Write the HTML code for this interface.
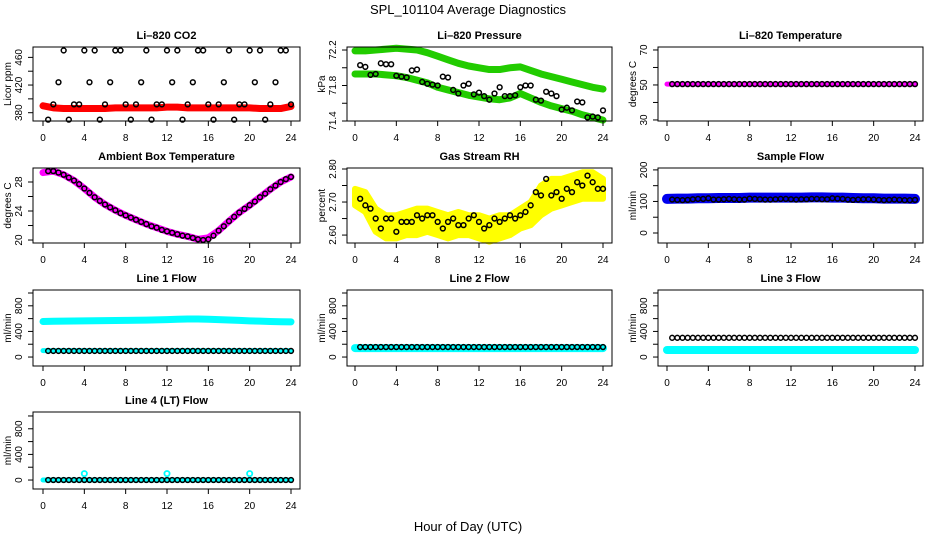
<!DOCTYPE html>
<html><head><meta charset="utf-8"><style>
html,body{margin:0;padding:0;background:#fff;}
svg{display:block;font-family:"Liberation Sans",sans-serif;}
</style></head><body>
<svg id="chart" width="936" height="540" viewBox="0 0 936 540" xmlns="http://www.w3.org/2000/svg">
<text x="468" y="14" text-anchor="middle" font-size="13">SPL_101104  Average Diagnostics</text>
<text x="468" y="531" text-anchor="middle" font-size="13">Hour of Day (UTC)</text>
</svg>
<script>
// ---- data (hourly bands: 25 values, 0..24h; circles: 49 values, 0..24h step 0.5) ----
const xTicks=[0,4,8,12,16,20,24];
const co2Band=[390,387,386,386,386,386,386,387,387,387,387,387,388,388,387,387,387,387,387,387,387,386,386,386,389];
const co2Pts=[392,370,392,424,470,370,392,392,470,424,470,370,392,424,470,470,392,370,392,424,470,370,392,392,470,424,470,370,392,424,470,470,392,370,392,424,470,370,392,392,470,424,470,370,392,424,470,470,392];
const presUpper=[72.19,72.19,72.20,72.21,72.22,72.21,72.20,72.17,72.13,72.09,72.05,72.02,72.00,71.98,71.98,72.00,72.01,71.97,71.93,71.90,71.87,71.84,71.81,71.78,71.76];
const presLower=[71.93,71.93,71.93,71.92,71.91,71.89,71.86,71.83,71.78,71.75,71.72,71.69,71.67,71.65,71.64,71.66,71.71,71.66,71.61,71.57,71.54,71.51,71.47,71.44,71.41];
const presPts=[71.95,72.03,72.01,71.92,71.93,72.05,72.04,72.04,71.91,71.90,71.89,71.97,71.98,71.84,71.82,71.81,71.80,71.90,71.89,71.75,71.71,71.80,71.82,71.70,71.72,71.68,71.64,71.71,71.78,71.68,71.68,71.69,71.78,71.80,71.80,71.64,71.63,71.73,71.71,71.68,71.53,71.55,71.52,71.62,71.61,71.44,71.45,71.44,71.52];
const licTempBand=[50.5,50.5,50.5,50.5,50.5,50.5,50.5,50.5,50.5,50.5,50.5,50.5,50.5,50.5,50.5,50.5,50.5,50.5,50.5,50.5,50.5,50.5,50.5,50.5,50.5];
const licTempPts=[50.5,50.5,50.5,50.5,50.5,50.5,50.5,50.5,50.5,50.5,50.5,50.5,50.5,50.5,50.5,50.5,50.5,50.5,50.5,50.5,50.5,50.5,50.5,50.5,50.5,50.5,50.5,50.5,50.5,50.5,50.5,50.5,50.5,50.5,50.5,50.5,50.5,50.5,50.5,50.5,50.5,50.5,50.5,50.5,50.5,50.5,50.5,50.5,50.5];
const ambBand=[29.3,29.5,29.0,28.2,27.1,25.9,24.9,24.1,23.4,22.8,22.2,21.7,21.2,20.8,20.5,20.1,20.3,21.3,22.6,23.8,24.8,25.9,27.0,28.0,28.7];
const ambPts=[29.3,29.5,29.5,29.3,29.0,28.6,28.2,27.7,27.1,26.5,25.9,25.4,24.9,24.5,24.1,23.7,23.4,23.1,22.8,22.5,22.2,21.9,21.7,21.4,21.2,21.0,20.8,20.6,20.5,20.3,20.1,20.0,20.1,20.6,21.3,21.9,22.6,23.2,23.8,24.3,24.8,25.3,25.9,26.4,27.0,27.5,28.0,28.4,28.7];
const rhHigh=[2.74,2.73,2.68,2.66,2.66,2.67,2.68,2.68,2.67,2.66,2.67,2.66,2.66,2.65,2.66,2.66,2.68,2.70,2.75,2.77,2.77,2.78,2.79,2.79,2.77];
const rhLow=[2.69,2.67,2.61,2.59,2.59,2.60,2.60,2.61,2.60,2.59,2.60,2.60,2.59,2.58,2.59,2.60,2.62,2.63,2.66,2.68,2.69,2.70,2.71,2.71,2.71];
const rhPts=[2.71,2.71,2.69,2.68,2.65,2.62,2.65,2.65,2.61,2.64,2.64,2.64,2.66,2.65,2.66,2.66,2.64,2.62,2.64,2.65,2.63,2.63,2.65,2.66,2.64,2.62,2.63,2.65,2.64,2.65,2.66,2.65,2.66,2.67,2.69,2.73,2.72,2.77,2.72,2.73,2.71,2.74,2.73,2.76,2.75,2.78,2.76,2.74,2.74];
const sampBand=[108,109,109,110,110,111,111,111,112,112,112,112,112,112,113,113,112,112,111,110,110,109,109,109,108];
const sampPts=[106,106,105,104,105,107,108,108,110,106,106,107,108,107,106,106,109,108,107,106,106,107,108,108,107,106,107,107,108,108,107,107,110,109,108,106,105,106,107,107,106,105,104,105,106,105,104,104,105];
const l1High=[555,558,560,562,565,567,568,570,572,574,576,580,585,590,595,595,590,585,578,572,565,560,555,552,550];
const l1Low=[100,100,100,100,100,100,100,100,100,100,100,100,100,100,100,100,100,100,100,100,100,100,100,100,100];
const l1Pts=[95,95,95,95,95,95,95,95,95,95,95,95,95,95,95,95,95,95,95,95,95,95,95,95,95,95,95,95,95,95,95,95,95,95,95,95,95,95,95,95,95,95,95,95,95,95,95,95,95];
const l2Band=[140,140,140,140,140,140,140,140,140,140,140,140,140,140,140,140,140,140,140,140,140,140,140,140,140];
const l2Pts=[150,156,156,156,156,156,156,156,156,156,156,156,156,156,156,156,156,156,156,156,156,156,156,156,156,156,156,156,156,156,156,156,156,156,156,156,156,156,156,156,156,156,156,156,156,156,156,156,156];
const l3Band=[110,110,110,110,110,110,110,110,110,110,110,110,110,110,110,110,110,110,110,110,110,110,110,110,110];
const l3Pts=[300,300,300,300,300,300,300,300,300,300,300,300,300,300,300,300,300,300,300,300,300,300,300,300,300,300,300,300,300,300,300,300,300,300,300,300,300,300,300,300,300,300,300,300,300,300,300,300,300];
const l4Band=[0,0,0,0,0,0,0,0,0,0,0,0,0,0,0,0,0,0,0,0,0,0,0,0,0];
const l4Pts=[0,0,0,0,0,0,0,0,0,0,0,0,0,0,0,0,0,0,0,0,0,0,0,0,0,0,0,0,0,0,0,0,0,0,0,0,0,0,0,0,0,0,0,0,0,0,0,0,0];
const l4SpikeHours=[4,12,20];
const l4SpikeVals=[100,100,100];

const NS='http://www.w3.org/2000/svg';
const svg=document.getElementById('chart');
function mk(tag,attrs,parent){const e=document.createElementNS(NS,tag);for(const k in attrs)e.setAttribute(k,attrs[k]);(parent||svg).appendChild(e);return e;}
const cols=[{l:33,x0:43,x24:291,r:300},{l:347,x0:355,x24:603,r:612},{l:658,x0:667,x24:915,r:923}];
const rows=[{t:47,b:121},{t:168,b:243},{t:290,b:366},{t:412,b:489}];
const flowTicks=[0,200,400,600,800,1000], flowLabels=[0,400,800];

function panel(name,title,ci,ri,ymin,ymax,ticks,labels,ylab,decim,layers){
  const c=cols[ci],r=rows[ri];
  const g=mk('g',{});
  
  
  const X=h=>c.x0+h/24*(c.x24-c.x0);
  const Y=v=>r.b-(v-ymin)/(ymax-ymin)*(r.b-r.t);
  const plot=mk('g',{},g);
  
  
  layers(plot,X,Y);
  const box=mk('rect',{x:c.l,y:r.t,width:c.r-c.l,height:r.b-r.t,fill:'none',stroke:'#000','stroke-width':1},g);
  
  
  const t=mk('text',{x:(c.l+c.r)/2,y:r.t-8,'text-anchor':'middle','font-size':11,'font-weight':'bold'},g);
  
  
  t.textContent=title;
  // x axis
  const xa=mk('g',{},g);
  
  
  xTicks.forEach(h=>{mk('line',{x1:X(h),x2:X(h),y1:r.b,y2:r.b+5,stroke:'#000'},xa);
    const tl=mk('text',{x:X(h),y:r.b+20,'text-anchor':'middle','font-size':10},xa);
    
    
    tl.textContent=h;});
  // y axis
  const ya=mk('g',{},g);
  
  
  const ax=c.l;
  ticks.forEach(v=>mk('line',{x1:ax-5,x2:ax,y1:Y(v),y2:Y(v),stroke:'#000'},ya));
  labels.forEach(v=>{const yy=Y(v),lx=ax-11;const tl=mk('text',{x:lx,y:yy,'text-anchor':'middle','font-size':10,transform:`rotate(-90 ${lx} ${yy})`},ya);
    
    
    tl.textContent=v.toFixed(decim);});
  const yl=(r.t+r.b)/2, ylx=c.l-22;
  const yt=mk('text',{x:ylx,y:yl,'text-anchor':'middle','font-size':10,transform:`rotate(-90 ${ylx} ${yl})`},g);
  
  
  yt.textContent=ylab;
}
function band(p,X,Y,arr,color,w,name){
  const pts=arr.map((v,i)=>X(i)+','+Y(v)).join(' ');
  const e=mk('polyline',{points:pts,fill:'none',stroke:color,'stroke-width':w,'stroke-linejoin':'round','stroke-linecap':'round'},p);
  
  
}
function area(p,X,Y,hi,lo,color,name){
  const pts=hi.map((v,i)=>X(i)+','+Y(v)).concat(lo.map((v,i)=>X(i)+','+Y(v)).reverse()).join(' ');
  const e=mk('polygon',{points:pts,fill:color,stroke:color,'stroke-width':6,'stroke-linejoin':'round'},p);
  
  
}
function circles(p,X,Y,arr,color,name,start){
  arr.forEach((v,i)=>{const h=i*0.5; if(h<(start||0))return;
    const e=mk('circle',{cx:X(h),cy:Y(v),r:2.4,fill:'none',stroke:color,'stroke-width':1.5},p);
    
    });
}

panel('co2','Li\u2013820 CO2',0,0,368,475,[380,400,420,440,460],[380,420,460],'Licor ppm',0,(p,X,Y)=>{
  band(p,X,Y,co2Band,'#ff0000',7,'co2-raw-band'); circles(p,X,Y,co2Pts,'#000','co2-average-point',0.5);});
panel('pressure','Li\u2013820 Pressure',1,0,71.40,72.234,[71.4,71.6,71.8,72.0,72.2],[71.4,71.8,72.2],'kPa',1,(p,X,Y)=>{
  band(p,X,Y,presUpper,'#22cc00',7,'pressure-upper-band'); band(p,X,Y,presLower,'#22cc00',7,'pressure-lower-band'); circles(p,X,Y,presPts,'#000','pressure-average-point',0.5);});
panel('licor-temp','Li\u2013820 Temperature',2,0,29.4,71.7,[30,40,50,60,70],[30,50,70],'degrees C',0,(p,X,Y)=>{
  band(p,X,Y,licTempBand,'#ff00ff',5,'licor-temp-band'); circles(p,X,Y,licTempPts,'#000','licor-temp-point',0.5);});
panel('ambient','Ambient Box Temperature',0,1,19.59,29.93,[20,22,24,26,28],[20,24,28],'degrees C',0,(p,X,Y)=>{
  band(p,X,Y,ambBand,'#ff00ff',7,'ambient-band'); circles(p,X,Y,ambPts,'#000','ambient-point',0.5);});
panel('rh','Gas Stream RH',1,1,2.576,2.803,[2.60,2.65,2.70,2.75,2.80],[2.60,2.70,2.80],'percent',2,(p,X,Y)=>{
  area(p,X,Y,rhHigh,rhLow,'#ffff00','rh-raw-band'); circles(p,X,Y,rhPts,'#000','rh-point',0.5);});
panel('sample-flow','Sample Flow',2,1,-31.7,206,[0,50,100,150,200],[0,100,200],'ml/min',0,(p,X,Y)=>{
  band(p,X,Y,sampBand,'#0000ee',10,'sample-flow-band'); circles(p,X,Y,sampPts,'#000','sample-flow-point',0.5);});
panel('line1','Line 1 Flow',0,2,-140,1047,flowTicks,flowLabels,'ml/min',0,(p,X,Y)=>{
  band(p,X,Y,l1High,'#00ffff',7,'line1-high-band'); band(p,X,Y,l1Low,'#00ffff',5,'line1-low-band'); circles(p,X,Y,l1Pts,'#000','line1-point',0.5);});
panel('line2','Line 2 Flow',1,2,-140,1047,flowTicks,flowLabels,'ml/min',0,(p,X,Y)=>{
  band(p,X,Y,l2Band,'#00ffff',8,'line2-band'); circles(p,X,Y,l2Pts,'#000','line2-point',0.5);});
panel('line3','Line 3 Flow',2,2,-140,1047,flowTicks,flowLabels,'ml/min',0,(p,X,Y)=>{
  band(p,X,Y,l3Band,'#00ffff',8,'line3-band'); circles(p,X,Y,l3Pts,'#000','line3-point',0.5);});
panel('line4','Line 4 (LT) Flow',0,3,-140,1062,flowTicks,flowLabels,'ml/min',0,(p,X,Y)=>{
  band(p,X,Y,l4Band,'#00ffff',5,'line4-band'); circles(p,X,Y,l4Pts,'#000','line4-point',0.5);
  l4SpikeHours.forEach((h,i)=>{const e=mk('circle',{cx:X(h),cy:Y(l4SpikeVals[i]),r:2.6,fill:'none',stroke:'#00ffff','stroke-width':1.8},p);
    
    });});
</script>
</body></html>
